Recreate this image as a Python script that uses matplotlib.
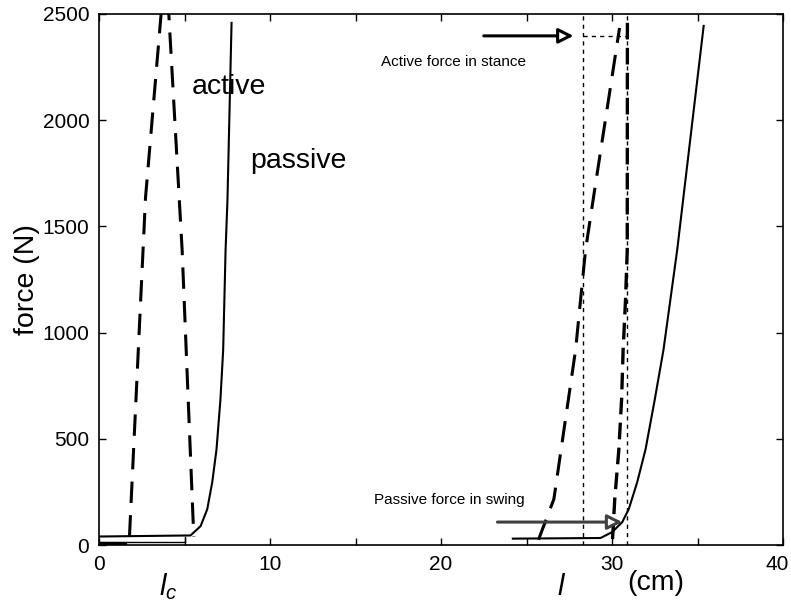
import numpy as np
import matplotlib.pyplot as plt
import matplotlib.transforms as mtransforms

plt.rcParams['font.family'] = ['Liberation Sans', 'DejaVu Sans']
plt.rcParams['mathtext.fontset'] = 'custom'
plt.rcParams['mathtext.rm'] = 'Liberation Sans'
plt.rcParams['mathtext.it'] = 'Liberation Sans:italic'

# left group (l_c)
lc_passive_x = [0, 5.35, 5.94, 6.33, 6.62, 6.87, 7.10, 7.26, 7.40, 7.51, 7.75]
lc_passive_f = [40, 45, 89, 169, 295, 450, 685, 919, 1388, 1623, 2458]
lc_active_x = [1.78, 2.72, 3.63, 3.86, 4.08, 4.86, 5.54]
lc_active_f = [40, 1637, 2500, 2650, 2500, 1388, 40]
lc_box_x = [0, 5.0, 5.0]
lc_box_f = [12, 12, 40]

# right group (l)
l_passive_x = [24.2, 29.33, 30.01, 30.6, 30.98, 31.47, 31.96, 32.5, 33.01, 33.81, 35.36]
l_passive_f = [30, 33, 61, 108, 169, 295, 450, 685, 919, 1388, 2444]
l_active_x = [25.7, 26.6, 27.87, 28.45, 28.98, 30.44]
l_active_f = [25, 216, 919, 1388, 1670, 2434]
l_stance_x = [30.03, 30.16, 30.40, 30.56, 30.65, 30.79, 30.89, 30.9]
l_stance_f = [28, 216, 450, 685, 919, 1154, 1388, 2500]

stance_len = [28.3, 30.85]
stance_force = 2397
swing_force = 108

fig = plt.figure(figsize=(7.91, 6.08), dpi=100)
ax = fig.add_axes([0.1252, 0.1036, 0.8647, 0.8734])

ax.plot(lc_passive_x, lc_passive_f, color='black', lw=1.5)
ax.plot(lc_box_x, lc_box_f, color='black', lw=1.0)
ax.plot([0, 1.5], [3, 3], color='black', lw=3)
ax.plot(lc_active_x, lc_active_f, color='black', lw=2.2, dashes=(7, 4))

ax.plot(l_passive_x, l_passive_f, color='black', lw=1.5)
ax.plot(l_active_x, l_active_f, color='black', lw=2.2, dashes=(7, 4))
ax.plot(l_stance_x, l_stance_f, color='black', lw=2.4, dashes=(5, 2.5))

# dotted guides
for xv in stance_len:
    ax.plot([xv, xv], [0, 2500], color='black', lw=1.0, dashes=(3, 3))
ax.plot(stance_len, [stance_force, stance_force], color='black', lw=1.0, dashes=(3, 3))

# arrows
ax.annotate('', xy=(27.75, stance_force), xytext=(22.5, stance_force),
            arrowprops=dict(arrowstyle='-|>,head_length=0.9,head_width=0.45',
                            fc='white', ec='black', lw=2.2, shrinkA=0, shrinkB=0))
ax.annotate('', xy=(30.6, swing_force), xytext=(23.3, swing_force),
            arrowprops=dict(arrowstyle='-|>,head_length=0.9,head_width=0.45',
                            fc='white', ec='0.25', lw=2.2, shrinkA=0, shrinkB=0))

ax.text(5.4, 2156, 'active', fontsize=20.5, va='center', ha='left')
ax.text(8.85, 1807, 'passive', fontsize=20.5, va='center', ha='left')
ax.text(16.5, 2274, 'Active force in stance', fontsize=11, va='center', ha='left')
ax.text(16.1, 210, 'Passive force in swing', fontsize=11, va='center', ha='left')

ax.set_xlim(0, 40)
ax.set_ylim(0, 2500)
ax.set_xticks(np.arange(0, 41, 5))
ax.set_xticklabels(['0', '', '10', '', '20', '', '30', '', '40'])
ax.set_yticks(np.arange(0, 2501, 500))
ax.tick_params(direction='in', length=5, width=1, labelsize=15,
               top=True, right=True, pad=7)
for s in ax.spines.values():
    s.set_linewidth(1.2)

# keep the last x label inside the figure
last = ax.get_xticklabels()[-1]
last.set_horizontalalignment('right')
last.set_transform(last.get_transform() + mtransforms.ScaledTranslation(6 / 100, 0, fig.dpi_scale_trans))

ax.set_ylabel('force (N)', fontsize=20.5, labelpad=2)

fig.text(168 / 791, 1 - 587 / 608, '$l_c$', fontsize=21, ha='center', va='center')
fig.text(562 / 791, 1 - 587 / 608, '$l$', fontsize=21, ha='center', va='center')
fig.text(656 / 791, 1 - 583 / 608, '(cm)', fontsize=20.5, ha='center', va='center')

fig.savefig('out.png', dpi=100)
